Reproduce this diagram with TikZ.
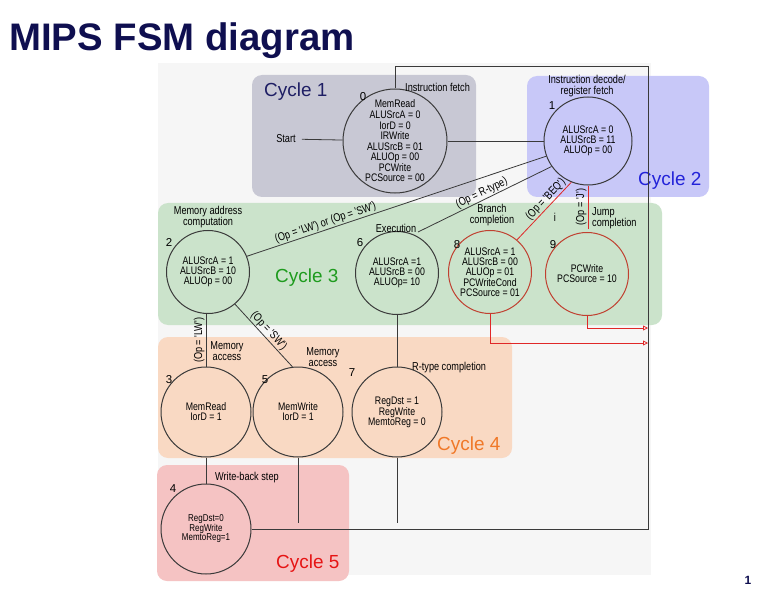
\documentclass[tikz,border=0pt]{standalone}
\usepackage{fontspec}
\setmainfont{Liberation Sans}
\newfontfamily\cond[FakeStretch=0.8]{Liberation Sans}
\usetikzlibrary{arrows.meta}
\definecolor{bggray}{HTML}{F6F6F6}
\definecolor{cafill}{HTML}{C8C8D4}
\definecolor{cbfill}{HTML}{C8C8F8}
\definecolor{ccfill}{HTML}{CBE3CB}
\definecolor{cdfill}{HTML}{F9D9C3}
\definecolor{cefill}{HTML}{F5C3C3}
\definecolor{catxt}{HTML}{1E1E64}
\definecolor{cbtxt}{HTML}{2323D9}
\definecolor{cctxt}{HTML}{1E9B1E}
\definecolor{cdtxt}{HTML}{F07828}
\definecolor{cetxt}{HTML}{E61414}
\definecolor{navy}{HTML}{0F0F50}
\definecolor{linegray}{HTML}{3A3A3A}
\definecolor{redline}{HTML}{E02828}
\definecolor{redcirc}{HTML}{C04030}
\begin{document}
\begin{tikzpicture}[x=1bp,y=-1bp,
  state/.style={circle, draw=linegray, line width=1bp, minimum size=83bp, inner sep=0pt, align=center, font=\cond\fontsize{11}{10}\selectfont},
  rstate/.style={state, draw=redcirc},
  lbl/.style={font=\cond\fontsize{11.5}{11.5}\selectfont, inner sep=0pt, align=center},
  num/.style={font=\fontsize{11.5}{11.5}\selectfont, inner sep=0pt},
  cond/.style={font=\cond\fontsize{11.5}{11.5}\selectfont, inner sep=1pt},
  conn/.style={draw=linegray, line width=0.8bp},
  rconn/.style={draw=redline, line width=0.8bp},
  cyc/.style={rounded corners=10bp},
  cyclbl/.style={font=\fontsize{19}{19}\selectfont, inner sep=0pt, anchor=west},
  arr/.style={-{Triangle[open, length=5bp, width=5bp]}}
]
\useasboundingbox (0,0) rectangle (768,594);
\fill[white] (0,0) rectangle (768,594);

\node[anchor=base west, font=\bfseries\fontsize{38.5}{38.5}\selectfont, text=navy, inner sep=0pt] (title) at (9,51) {MIPS FSM diagram};

% background and cycle regions
\fill[bggray] (158,63) rectangle (651,575);
\fill[cafill, cyc] (252,75) rectangle (476,197);
\fill[cbfill, cyc] (527,76) rectangle (709,197);
\fill[ccfill, cyc] (158,203) rectangle (662,325);
\fill[cdfill, cyc] (158,337) rectangle (512,458);
\fill[cefill, cyc] (157,465) rectangle (349,581);

\node[cyclbl, text=catxt] (cyc1) at (264,92) {Cycle 1};
\node[cyclbl, text=cbtxt] (cyc2) at (638,181) {Cycle 2};
\node[cyclbl, text=cctxt] (cyc3) at (275,278) {Cycle 3};
\node[cyclbl, text=cdtxt] (cyc4) at (437,446) {Cycle 4};
\node[cyclbl, text=cetxt] (cyc5) at (276,564) {Cycle 5};

% states
\node[state, minimum size=104bp, font=\cond\fontsize{11}{10.6}\selectfont] (s0) at (395,141) {MemRead\\ALUSrcA = 0\\IorD = 0\\IRWrite\\ALUSrcB = 01\\ALUOp = 00\\PCWrite\\PCSource = 00};
\node[state, minimum size=88bp] (s1) at (588,141) {ALUSrcA = 0\\ALUSrcB = 11\\ALUOp = 00};
\node[state] (s2) at (208,272) {ALUSrcA = 1\\ALUSrcB = 10\\ALUOp = 00};
\node[state] (s6) at (397,273) {ALUSrcA =1\\ALUSrcB = 00\\ALUOp= 10};
\node[rstate] (s8) at (490,272) {ALUSrcA = 1\\ALUSrcB = 00\\ALUOp = 01\\PCWriteCond\\PCSource = 01};
\node[rstate] (s9) at (587,274) {PCWrite\\PCSource = 10};
\node[state, minimum size=90bp] (s3) at (206,412) {MemRead\\IorD = 1};
\node[state, minimum size=90bp] (s5) at (298,412) {MemWrite\\IorD = 1};
\node[state, minimum size=90bp] (s7) at (397,412) {RegDst = 1\\RegWrite\\MemtoReg = 0};
\node[state, minimum size=90bp, font=\cond\fontsize{10}{9.5}\selectfont] (s4) at (206,529) {RegDst=0\\RegWrite\\MemtoReg=1};

% labels
\node[num] (n0) at (363,97) {0};
\node[lbl, anchor=west] (l0) at (405,87) {Instruction fetch};
\node[num] (n1) at (552,106) {1};
\node[lbl] (l1) at (587,86) {Instruction decode/\\register fetch};
\node[lbl] (startl) at (286,139) {Start};
\node[num] (n2) at (169,242) {2};
\node[lbl] (l2) at (208,217) {Memory address\\computation};
\node[num] (n6) at (360,243) {6};
\node[lbl] (l6) at (396,228) {Execution};
\node[num] (n8) at (457,245) {8};
\node[lbl] (l8) at (492,215) {Branch\\completion};
\node[num] (n9) at (553,245) {9};
\node[lbl, align=left, anchor=west] (l9) at (592,218) {Jump\\completion};
\node[lbl] (stray) at (555,217) {i};
\node[num] (n3) at (169,380) {3};
\node[lbl] (l3) at (227,351) {Memory\\access};
\node[num] (n5) at (265,380) {5};
\node[lbl] (l5) at (323,357) {Memory\\access};
\node[num] (n7) at (352,373) {7};
\node[lbl, anchor=west] (l7) at (412,368) {R-type completion};
\node[num] (n4) at (173,489) {4};
\node[lbl, anchor=west] (l4) at (215,478) {Write-back step};
\node[font=\bfseries\fontsize{12}{12}\selectfont, text=navy, inner sep=0pt] (pg) at (748,580) {1};

% coordinates
\coordinate (tl) at (395,67);
\coordinate (tr) at (648,67);
\coordinate (br) at (648,529);
\coordinate (e6) at (418,232);
\coordinate (j9) at (588,229);
\coordinate (a8) at (648,343);
\coordinate (a9) at (648,328);
\coordinate (e5) at (298,523);
\coordinate (e7) at (397,523);

% connectors
\draw[conn, shorten <=6bp] (startl) -- (s0);
\draw[conn] (s0) -- (s1);
\draw[conn, line width=1bp] (s4.east) -- (br) -- (tr) -- (tl) -- (s0.north);
\draw[conn] (s1.200) -- (s2.22) node[cond, sloped, above, pos=0.73] {(Op = 'LW') or (Op = 'SW')};
\draw[conn] (s1.215) -- (e6) node[cond, sloped, above, pos=0.5] {(Op = R-type)};
\draw[rconn] (s1.248) -- (s8.50) node[cond, sloped, above, pos=0.38] {(Op = 'BEQ')};
\draw[rconn] (j9) -- (s1.south) node[cond, sloped, above, midway] {(Op = 'J')};
\draw[rconn, arr] (s8.south) |- (a8);
\draw[rconn, arr] (s9.south) |- (a9);
\draw[conn] (s3.north) -- (s2.south -| s3.north) node[cond, sloped, above, midway] {(Op = 'LW')};
\draw[conn] (s2.-50) -- (s5.97) node[cond, sloped, above, midway] {(Op = 'SW')};
\draw[conn] (s6.south) -- (s7.north);
\draw[conn] (s3.south) -- (s4.north);
\draw[conn] (s5.south) -- (e5);
\draw[conn] (s7.south) -- (e7);
\end{tikzpicture}
\end{document}
